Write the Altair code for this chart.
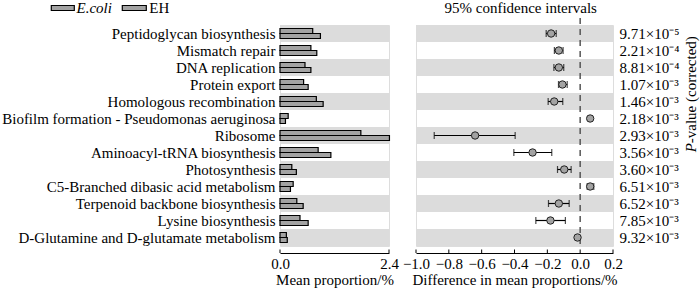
import altair as alt
import pandas as pd

categories = [
    "Peptidoglycan biosynthesis",
    "Mismatch repair",
    "DNA replication",
    "Protein export",
    "Homologous recombination",
    "Biofilm formation - Pseudomonas aeruginosa",
    "Ribosome",
    "Aminoacyl-tRNA biosynthesis",
    "Photosynthesis",
    "C5-Branched dibasic acid metabolism",
    "Terpenoid backbone biosynthesis",
    "Lysine biosynthesis",
    "D-Glutamine and D-glutamate metabolism",
]
series_names = ["E.coli", "EH"]
ecoli = [0.72, 0.68, 0.55, 0.52, 0.80, 0.18, 1.78, 0.84, 0.26, 0.29, 0.37, 0.44, 0.14]
eh = [0.89, 0.81, 0.68, 0.62, 0.95, 0.12, 2.41, 1.12, 0.36, 0.23, 0.51, 0.62, 0.16]
diff = [-0.177, -0.13, -0.13, -0.108, -0.158, 0.061, -0.64, -0.29, -0.097, 0.061, -0.13, -0.181, -0.016]
ci_low = [-0.207, -0.157, -0.16, -0.132, -0.195, 0.05, -0.889, -0.404, -0.138, 0.043, -0.193, -0.27, -0.025]
ci_high = [-0.146, -0.104, -0.10, -0.079, -0.106, 0.072, -0.396, -0.173, -0.055, 0.083, -0.067, -0.09, -0.007]
pvals = ["9.71×10⁻⁵", "2.21×10⁻⁴", "8.81×10⁻⁴", "1.07×10⁻³", "1.46×10⁻³",
         "2.18×10⁻³", "2.93×10⁻³", "3.56×10⁻³", "3.60×10⁻³", "6.51×10⁻³",
         "6.52×10⁻³", "7.85×10⁻³", "9.32×10⁻³"]
left_ticks = [0.0, 2.4]
right_ticks = [-1.0, -0.8, -0.6, -0.4, -0.2, 0.0, 0.2]

FONT = "Liberation Serif"
FS = 15
WL, WR, H = 109, 197, 221
BAND = "#dcdcdc"
GRAY = "#a3a3a3"

rows = pd.DataFrame({"category": categories, "idx": range(len(categories)),
                     "diff": diff, "lo": ci_low, "hi": ci_high, "p": pvals})
bands = rows[rows["idx"] % 2 == 0]
bars = pd.DataFrame({
    "category": categories * 2,
    "series": [series_names[0]] * len(categories) + [series_names[1]] * len(categories),
    "value": ecoli + eh,
})

yscale = alt.Scale(domain=categories, paddingInner=0, paddingOuter=0)
yaxis = alt.Axis(title=None, ticks=False, domain=False, labelPadding=5,
                 labelFont=FONT, labelFontSize=FS, labelColor="black", labelLimit=0)
Y = alt.Y("category:N", scale=yscale, sort=categories, axis=yaxis)
Yn = alt.Y("category:N", scale=yscale, sort=categories, axis=None)


def xaxis(title, values):
    return alt.Axis(title=title, values=values, format=".1f",
                    offset=7, ticks=False, tickSize=0, labelPadding=3,
                    labelOverlap=False, labelFlush=False,
                    domainColor="black", domainWidth=1,
                    labelFont=FONT, labelFontSize=FS, labelColor="black",
                    titleFont=FONT, titleFontSize=FS, titleFontWeight="normal",
                    titleColor="black", titlePadding=1, grid=False)


lscale = alt.Scale(domain=[0, 2.4], nice=False, zero=False)
rscale = alt.Scale(domain=[-1.0, 0.2], nice=False, zero=False)
laxis = xaxis("Mean proportion/%", left_ticks)
raxis = xaxis("Difference in mean proportions/%", right_ticks)

# ---------- left panel ----------
l_band = alt.Chart(bands).mark_rect(color=BAND).encode(
    y=Y, x=alt.value(0), x2=alt.value(WL))
l_bars = alt.Chart(bars).mark_bar(fill=GRAY, stroke="black", strokeWidth=1.2).encode(
    y=Y,
    yOffset=alt.YOffset("series:N", sort=series_names,
                        scale=alt.Scale(paddingInner=0, paddingOuter=0.7)),
    x=alt.X("value:Q", scale=lscale, axis=laxis),
)
l_ticks = alt.Chart(pd.DataFrame({"t": left_ticks})).mark_rule(color="black").encode(
    x=alt.X("t:Q", scale=lscale, axis=laxis), y=alt.value(H + 3.5), y2=alt.value(H + 7))

leg_box = pd.DataFrame({"series": series_names})
leg1 = alt.Chart(leg_box.iloc[[0]]).mark_rect(fill=GRAY, stroke="black", strokeWidth=1.2).encode(
    x=alt.value(-228.7), x2=alt.value(-205.7), y=alt.value(-19.5), y2=alt.value(-14.5))
leg1t = alt.Chart(leg_box.iloc[[0]]).mark_text(
    align="left", baseline="middle", font=FONT, fontSize=FS, fontStyle="italic", color="black"
).encode(x=alt.value(-203.5), y=alt.value(-17), text="series:N")
leg2 = alt.Chart(leg_box.iloc[[1]]).mark_rect(fill=GRAY, stroke="black", strokeWidth=1.2).encode(
    x=alt.value(-157.7), x2=alt.value(-133.7), y=alt.value(-19.5), y2=alt.value(-14.5))
leg2t = alt.Chart(leg_box.iloc[[1]]).mark_text(
    align="left", baseline="middle", font=FONT, fontSize=FS, color="black"
).encode(x=alt.value(-130.7), y=alt.value(-17), text="series:N")

left = alt.layer(l_band, l_bars, l_ticks, leg1, leg1t, leg2, leg2t).properties(width=WL, height=H)

# ---------- right panel ----------
r_band = alt.Chart(bands).mark_rect(color=BAND).encode(
    y=Yn, x=alt.value(0), x2=alt.value(WR))
r_zero = alt.Chart(pd.DataFrame({"z": [0.0]})).mark_rule(
    color="#555555", strokeWidth=1.5, strokeDash=[6, 5]).encode(
    x=alt.X("z:Q", scale=rscale, axis=raxis), y=alt.value(-7), y2=alt.value(H))
r_err = alt.Chart(rows).mark_rule(color="black", strokeWidth=1.2).encode(
    y=Yn, x=alt.X("lo:Q", scale=rscale, axis=raxis), x2="hi:Q")
r_cap_lo = alt.Chart(rows).mark_tick(color="black", size=7, thickness=1.2).encode(
    y=Yn, x=alt.X("lo:Q", scale=rscale, axis=raxis))
r_cap_hi = alt.Chart(rows).mark_tick(color="black", size=7, thickness=1.2).encode(
    y=Yn, x=alt.X("hi:Q", scale=rscale, axis=raxis))
r_pts = alt.Chart(rows).mark_circle(size=55, fill=GRAY, stroke="#222222",
                                    strokeWidth=1, opacity=1).encode(
    y=Yn, x=alt.X("diff:Q", scale=rscale, axis=raxis))
r_ticks = alt.Chart(pd.DataFrame({"t": right_ticks})).mark_rule(color="black").encode(
    x=alt.X("t:Q", scale=rscale, axis=raxis), y=alt.value(H + 3.5), y2=alt.value(H + 7))
r_p = alt.Chart(rows).mark_text(align="left", baseline="middle", font=FONT,
                                fontSize=FS, color="black").encode(
    y=Yn, x=alt.value(WR + 6.5), text="p:N")
r_title = alt.Chart(pd.DataFrame({"t": ["95% confidence intervals"]})).mark_text(
    align="center", baseline="middle", font=FONT, fontSize=FS, color="black").encode(
    x=alt.value(104.7), y=alt.value(-17.5), text="t:N")
r_vt1 = alt.Chart(pd.DataFrame({"t": ["P"]})).mark_text(
    align="left", baseline="middle", angle=270, font=FONT, fontSize=FS,
    fontStyle="italic", color="black").encode(
    x=alt.value(274.7), y=alt.value(127.2), text="t:N")
r_vt2 = alt.Chart(pd.DataFrame({"t": ["-value (corrected)"]})).mark_text(
    align="left", baseline="middle", angle=270, font=FONT, fontSize=FS, color="black").encode(
    x=alt.value(274.7), y=alt.value(118.2), text="t:N")

right = alt.layer(r_band, r_zero, r_err, r_cap_lo, r_cap_hi, r_pts, r_ticks,
                  r_p, r_title, r_vt1, r_vt2).properties(width=WR, height=H)

chart = alt.hconcat(left, right, spacing=27, bounds="flush").resolve_scale(
    x="independent").properties(
    padding={"left": 1, "top": 0, "right": 0, "bottom": 0}
).configure_view(stroke=None).configure(background="white")

chart.save("out.html", embed_options={"renderer": "svg", "actions": False})
